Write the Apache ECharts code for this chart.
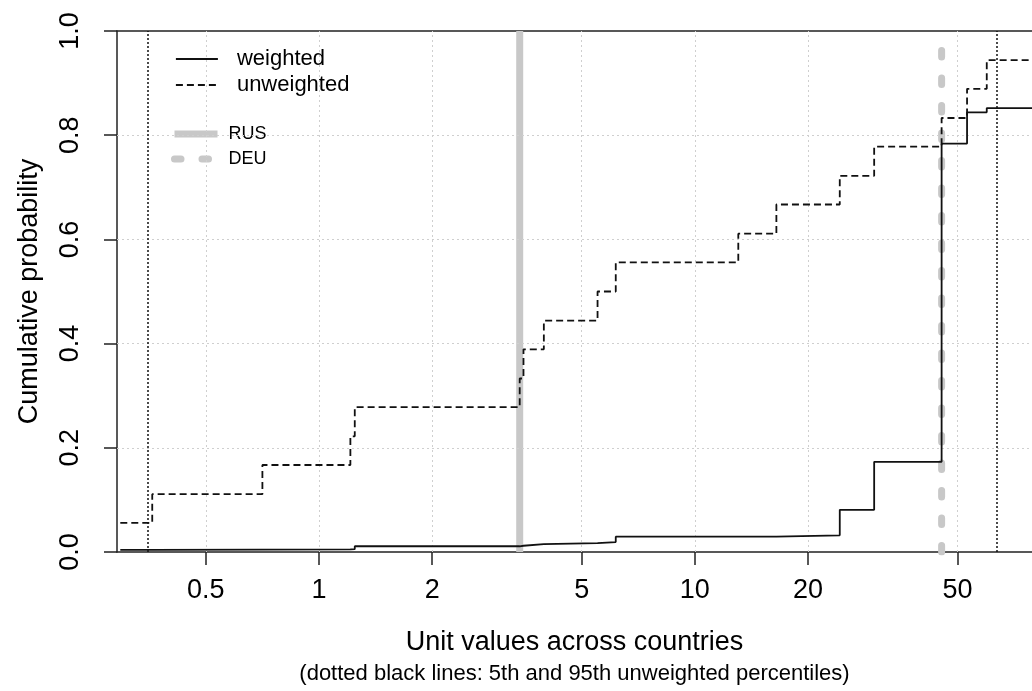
<!DOCTYPE html>
<html>
<head>
<meta charset="utf-8">
<script src="https://cdn.jsdelivr.net/npm/echarts@6/dist/echarts.min.js"></script>
<style>
  html, body { margin: 0; padding: 0; background: #fff; }
  #chart { width: 1032px; height: 691px; }
</style>
</head>
<body>
<div id="chart"></div>
<script>
// unit values per country (sorted)
const unitValues = [0.296, 0.360, 0.707, 1.212, 1.245, 3.42, 3.50, 3.965, 5.51, 6.16, 13.05, 16.48, 24.3, 30.0, 45.35, 53.0, 59.8, 120]
const unweightedCum = [0.056, 0.111, 0.167, 0.222, 0.278, 0.333, 0.389, 0.444, 0.5, 0.556, 0.611, 0.667, 0.722, 0.778, 0.833, 0.889, 0.944, 1]
const weightedCum = [0.004, 0.0045, 0.005, 0.0055, 0.011, 0.012, 0.015, 0.017, 0.019, 0.0295, 0.0295, 0.032, 0.081, 0.173, 0.784, 0.844, 0.852, 1]

const xTicks = [0.5, 1, 2, 5, 10, 20, 50]
const yGrid = [0.2, 0.4, 0.6, 0.8]
const xRange = [0.2901, 78.9]
const percentiles = [0.3485, 63.5]
const rusValue = 3.42
const deuValue = 45.35

const FONT = '"Liberation Sans", Arial, sans-serif'
const GRID_GRAY = '#cfcfcf'
const REF_GRAY = '#c8c8c8'
const AXIS_COL = '#222'

const chart = echarts.init(document.getElementById('chart'), null, { renderer: 'canvas' })

const zip = (xs, ys) => xs.map((x, i) => [x, ys[i]])
// legend rows: line sample only, no marker in the middle
const noMarker = { color: 'rgba(0,0,0,0)', borderWidth: 0 }

chart.setOption({
  animation: false,
  textStyle: { fontFamily: FONT, color: '#000' },
  grid: {
    left: 117,
    right: 0,
    top: 31,
    bottom: 139,
  },
  legend: [
    {
      orient: 'vertical',
      left: 175,
      top: 48,
      padding: 0,
      itemWidth: 42,
      itemHeight: 22,
      itemGap: 4,
      textStyle: { fontSize: 22, color: '#000', padding: [0, 0, 0, 14] },
      data: [
        { name: 'weighted', lineStyle: { width: 1.8 }, itemStyle: noMarker },
        { name: 'unweighted', lineStyle: { width: 1.8 }, itemStyle: noMarker },
      ],
    },
    {
      orient: 'vertical',
      left: 171,
      top: 125,
      padding: 0,
      itemWidth: 43,
      itemHeight: 20,
      itemGap: 7,
      textStyle: { fontSize: 18, color: '#000', padding: [0, 0, 0, 6] },
      data: [
        { name: 'RUS', lineStyle: { width: 7 }, itemStyle: noMarker },
        { name: 'DEU', lineStyle: { width: 7 }, itemStyle: noMarker },
      ],
    },
  ],
  xAxis: [
    {
      type: 'log',
      logBase: 10,
      min: xRange[0],
      max: xRange[1],
      name: '{a|Unit values across countries}\n{b|(dotted black lines: 5th and 95th unweighted percentiles)}',
      nameLocation: 'middle',
      nameGap: 75,
      nameTextStyle: {
        rich: {
          a: { fontSize: 27, lineHeight: 32, color: '#000', fontFamily: FONT },
          b: { fontSize: 22, lineHeight: 30, color: '#000', fontFamily: FONT },
        },
      },
      axisLine: { lineStyle: { color: AXIS_COL, width: 1.5 } },
      axisTick: { length: 13, customValues: xTicks, lineStyle: { color: AXIS_COL, width: 1.5 } },
      axisLabel: {
        customValues: xTicks,
        formatter: v => String(v),
        fontSize: 27,
        margin: 25,
        color: '#000',
      },
      splitLine: { show: false },
    },
    {
      // top edge of the plot box
      type: 'log',
      position: 'top',
      min: xRange[0],
      max: xRange[1],
      axisLine: { show: true, lineStyle: { color: AXIS_COL, width: 1.5 } },
      axisTick: { show: false },
      axisLabel: { show: false },
      splitLine: { show: false },
    },
  ],
  yAxis: {
    type: 'value',
    min: 0,
    max: 1,
    interval: 0.2,
    name: 'Cumulative probability',
    nameLocation: 'middle',
    nameGap: 74,
    nameTextStyle: { fontSize: 27, color: '#000' },
    axisLine: { show: true, lineStyle: { color: AXIS_COL, width: 1.5 } },
    axisTick: { show: true, length: 13, lineStyle: { color: AXIS_COL, width: 1.5 } },
    axisLabel: {
      rotate: 90,
      fontSize: 27,
      margin: 33,
      color: '#000',
      formatter: v => v.toFixed(1),
    },
    splitLine: { show: false },
  },
  series: [
    {
      name: 'gridlines',
      type: 'line',
      data: [],
      silent: true,
      z: 1,
      markLine: {
        silent: true,
        symbol: 'none',
        label: { show: false },
        lineStyle: { color: GRID_GRAY, type: [2, 3], width: 1 },
        data: [
          ...xTicks.map(v => ({ xAxis: v })),
          ...yGrid.map(v => ({ yAxis: v })),
        ],
      },
    },
    {
      name: 'RUS',
      type: 'line',
      data: [[rusValue, 0], [rusValue, 1]],
      symbol: 'none',
      z: 2,
      itemStyle: { color: REF_GRAY },
      lineStyle: { color: REF_GRAY, width: 7 },
    },
    {
      name: 'DEU',
      type: 'line',
      data: [[deuValue, 0], [deuValue, 1]],
      symbol: 'none',
      z: 2,
      itemStyle: { color: REF_GRAY },
      lineStyle: { color: REF_GRAY, width: 7, type: [6.5, 21], cap: 'round' },
    },
    {
      name: 'percentiles',
      type: 'line',
      data: [],
      silent: true,
      z: 3,
      markLine: {
        silent: true,
        symbol: 'none',
        label: { show: false },
        lineStyle: { color: '#111', type: [2, 2], width: 1.5 },
        data: percentiles.map(v => ({ xAxis: v })),
      },
    },
    {
      name: 'weighted',
      type: 'line',
      step: 'end',
      data: zip(unitValues, weightedCum),
      symbol: 'none',
      z: 5,
      itemStyle: { color: '#111' },
      lineStyle: { color: '#111', width: 1.8 },
    },
    {
      name: 'unweighted',
      type: 'line',
      step: 'end',
      data: zip(unitValues, unweightedCum),
      symbol: 'none',
      z: 5,
      itemStyle: { color: '#111' },
      lineStyle: { color: '#111', width: 1.8, type: [7, 4] },
    },
  ],
})
</script>
</body>
</html>
